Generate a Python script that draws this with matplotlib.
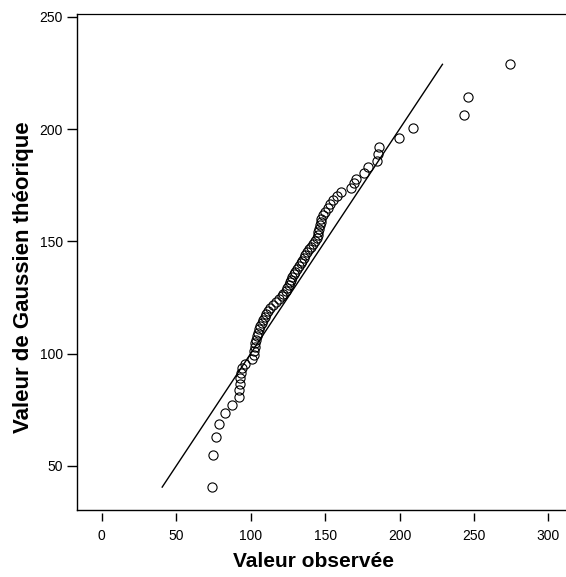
import matplotlib
matplotlib.use("Agg")
import matplotlib.pyplot as plt

plt.rcParams['font.family'] = ['Liberation Sans', 'DejaVu Sans']

# Observed values (x) and theoretical Gaussian values (y)
observed = [73.9, 74.9, 76.5, 78.6, 82.6, 87.3, 92.4, 92.4, 92.7, 93.1,
            93.6, 94.5, 96.4, 101.0, 102.0, 102.5, 102.8, 103.0, 103.5, 104.2,
            104.8, 105.5, 106.5, 107.5, 108.5, 109.5, 110.5, 111.6, 113.0, 115.0,
            117.0, 119.0, 121.0, 122.0, 123.5, 124.5, 125.5, 126.5, 127.3, 128.0,
            129.0, 130.0, 131.0, 132.5, 133.5, 134.5, 135.5, 136.5, 138.0, 139.0,
            140.5, 142.0, 143.5, 144.5, 145.0, 145.5, 146.0, 146.5, 147.3, 147.5,
            148.8, 150.0, 152.0, 153.5, 155.4, 158.0, 160.5, 167.5, 169.5, 171.0,
            176.0, 179.0, 184.6, 185.7, 186.5, 199.5, 209.0, 243.3, 246.0, 274.2]
theoretical = [40.6, 55.0, 63.1, 68.8, 73.4, 77.3, 80.7, 83.7, 86.5, 89.0,
               91.3, 93.5, 95.6, 97.5, 99.4, 101.2, 102.9, 104.6, 106.2, 107.8,
               109.3, 110.8, 112.3, 113.7, 115.1, 116.4, 117.8, 119.1, 120.4, 121.7,
               123.0, 124.2, 125.5, 126.7, 128.0, 129.2, 130.4, 131.7, 132.9, 134.1,
               135.3, 136.5, 137.8, 139.0, 140.2, 141.4, 142.7, 143.9, 145.2, 146.4,
               147.7, 149.0, 150.3, 151.6, 153.0, 154.3, 155.7, 157.1, 158.6, 160.1,
               161.6, 163.2, 164.8, 166.5, 168.2, 170.0, 171.9, 173.8, 175.9, 177.9,
               180.4, 183.0, 185.7, 188.7, 192.1, 196.0, 200.4, 206.3, 214.4, 228.8]
ref_line = [40.6, 228.8]

x_ticks = [0, 50, 100, 150, 200, 250, 300]
y_ticks = [50, 100, 150, 200, 250]

fig = plt.figure(figsize=(5.66, 5.77), dpi=100)
ax = fig.add_axes([77/566, 67/577, (568-77)/566, (510-14)/577])

ax.plot(ref_line, ref_line, color='black', lw=1.0, zorder=2)
ax.plot(observed, theoretical, linestyle='none', marker='o', ms=6.6,
        mfc='none', mec='black', mew=0.8, zorder=3)

ax.set_xlim(-16.6, 313.1)
ax.set_ylim(30.4, 251.2)
ax.set_xticks(x_ticks)
ax.set_yticks(y_ticks)

ax.spines['right'].set_visible(False)
ax.spines['top'].set_linewidth(0.9)
ax.spines['left'].set_linewidth(1.0)
ax.spines['bottom'].set_position(('outward', 2))
ax.spines['bottom'].set_visible(False)
ax.plot([0, 1], [0, 0], transform=ax.transAxes, color='black', lw=1.0,
        clip_on=False)

ax.tick_params(axis='x', length=6, width=1.0, pad=6, labelsize=10, direction='out')
ax.tick_params(axis='y', length=7, width=1.0, pad=3, labelsize=10, direction='out')

ax.set_xlabel('Valeur observée', fontsize=15, fontweight='bold', labelpad=6)
ax.set_ylabel('Valeur de Gaussien théorique', fontsize=16, fontweight='bold', labelpad=4)
ax.xaxis.label.set_x(0.481)
ax.yaxis.label.set_y(0.469)

fig.savefig('out.png', dpi=100)
